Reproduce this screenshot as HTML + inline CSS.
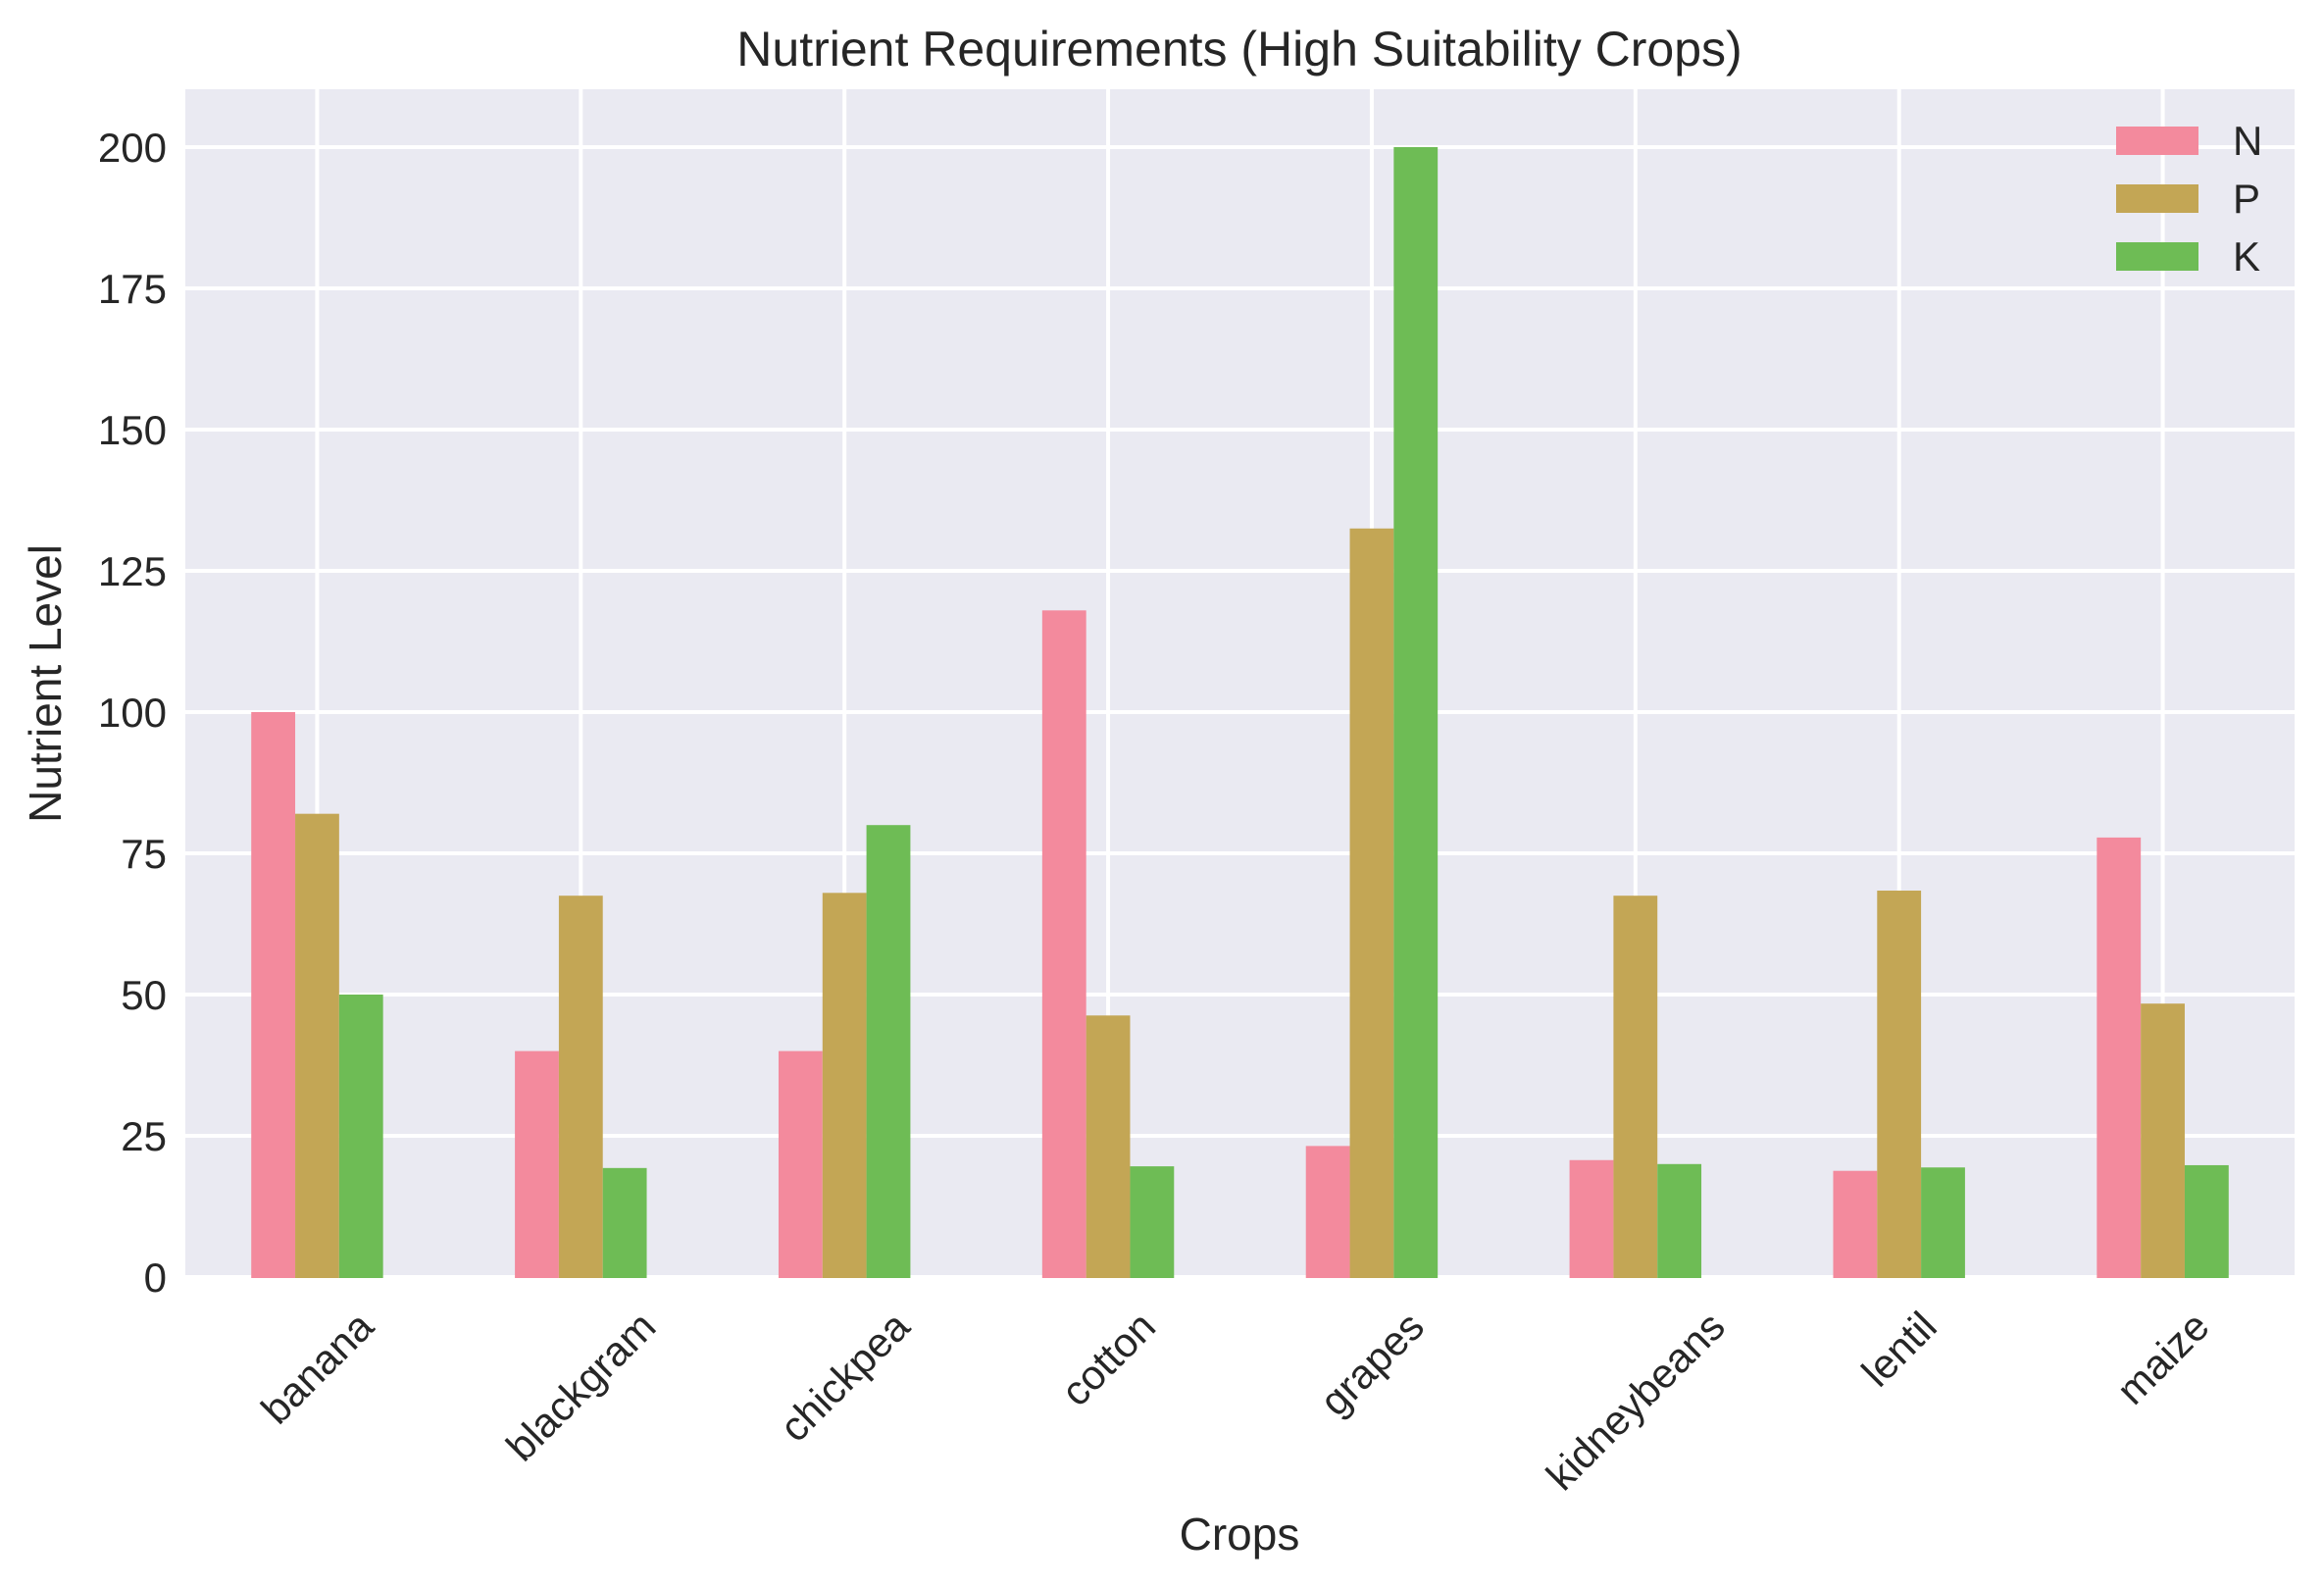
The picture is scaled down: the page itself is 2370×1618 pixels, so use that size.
<!DOCTYPE html>
<html><head><meta charset="utf-8"><style>
html,body{margin:0;padding:0;background:#fff}
svg{display:block;font-family:"Liberation Sans",Arial,sans-serif}
</style></head><body>
<svg id="chart" width="2370" height="1618" viewBox="0 0 2370 1618" xmlns="http://www.w3.org/2000/svg">
<rect width="2370" height="1618" fill="#fff"/>
<rect x="189" y="91" width="2151" height="1212" fill="#eaeaf2"/>
<g id="grid"></g>
<g id="bars"></g>
<g id="ticks"></g>
<text x="1264" y="67" font-size="50" text-anchor="middle" fill="#262626">Nutrient Requirements (High Suitability Crops)</text>
<text transform="translate(62,697) rotate(-90)" font-size="46" text-anchor="middle" fill="#262626">Nutrient Level</text>
<text x="1264" y="1580" font-size="46" text-anchor="middle" fill="#262626">Crops</text>
<g id="legend"></g>
</svg>
<script>
const categories = ["banana","blackgram","chickpea","cotton","grapes","kidneybeans","lentil","maize"];
const seriesNames = ["N","P","K"];
const nValues = [100, 40, 40, 118, 23.2, 20.7, 18.8, 77.8];
const pValues = [82, 67.5, 68, 46.3, 132.5, 67.5, 68.4, 48.4];
const kValues = [50, 19.3, 80, 19.6, 200, 20, 19.4, 19.8];
const yTicks = [0,25,50,75,100,125,150,175,200];
const colors = ["#f38a9d","#c3a655","#6ebc55"];

const NS="http://www.w3.org/2000/svg";
const L=189,R=2340,T=91,B=1303;
const y0px=1302, y200px=150;
function yScale(v){return y0px-(v/200)*(y0px-y200px);}
const step=(R-L)/categories.length;
function xCenter(i){return L+step*(i+0.5);}
function mk(tag,attrs,parent){const e=document.createElementNS(NS,tag);for(const k in attrs)e.setAttribute(k,attrs[k]);parent.appendChild(e);return e;}
const grid=document.getElementById('grid'),bars=document.getElementById('bars'),ticks=document.getElementById('ticks'),legend=document.getElementById('legend');
yTicks.forEach(t=>{
  const y=yScale(t);
  const ln=mk('line',{x1:L,x2:R,y1:y,y2:y,stroke:'#fff','stroke-width':4},grid);
  
  
  const tx=mk('text',{x:170,y:y+15,'font-size':42,'text-anchor':'end',fill:'#262626'},ticks);
  tx.textContent=t;
  
  
});
categories.forEach((c,i)=>{
  const x=xCenter(i);
  const ln=mk('line',{x1:x,x2:x,y1:T,y2:B,stroke:'#fff','stroke-width':4},grid);
  
  
});
const series=[nValues,pValues,kValues];
const bw=step*0.5/3;
series.forEach((vals,s)=>{
  vals.forEach((v,i)=>{
    const x=xCenter(i)-step*0.25+s*bw;
    const r=mk('rect',{x:x,y:yScale(v),width:bw,height:yScale(0)-yScale(v)+1,fill:colors[s]},bars);
    
    
  });
});
categories.forEach((c,i)=>{
  const tx=mk('text',{'font-size':42,'text-anchor':'middle','dominant-baseline':'central',fill:'#262626'},ticks);
  tx.textContent=c;
  
  
  const w=tx.getComputedTextLength();
  const bh=(w+42)/Math.SQRT2;
  const cx=xCenter(i), cy=1330+bh/2;
  tx.setAttribute('x',cx);tx.setAttribute('y',cy);
  tx.setAttribute('transform','rotate(-45 '+cx+' '+cy+')');
});
seriesNames.forEach((n,s)=>{
  const y=129+s*59;
  const r=mk('rect',{x:2158,y:y,width:84,height:29,fill:colors[s]},legend);
  
  
  const t=mk('text',{x:2277,y:y+29,'font-size':42,fill:'#262626'},legend);
  t.textContent=n;
  
  
});
</script>
</body></html>
